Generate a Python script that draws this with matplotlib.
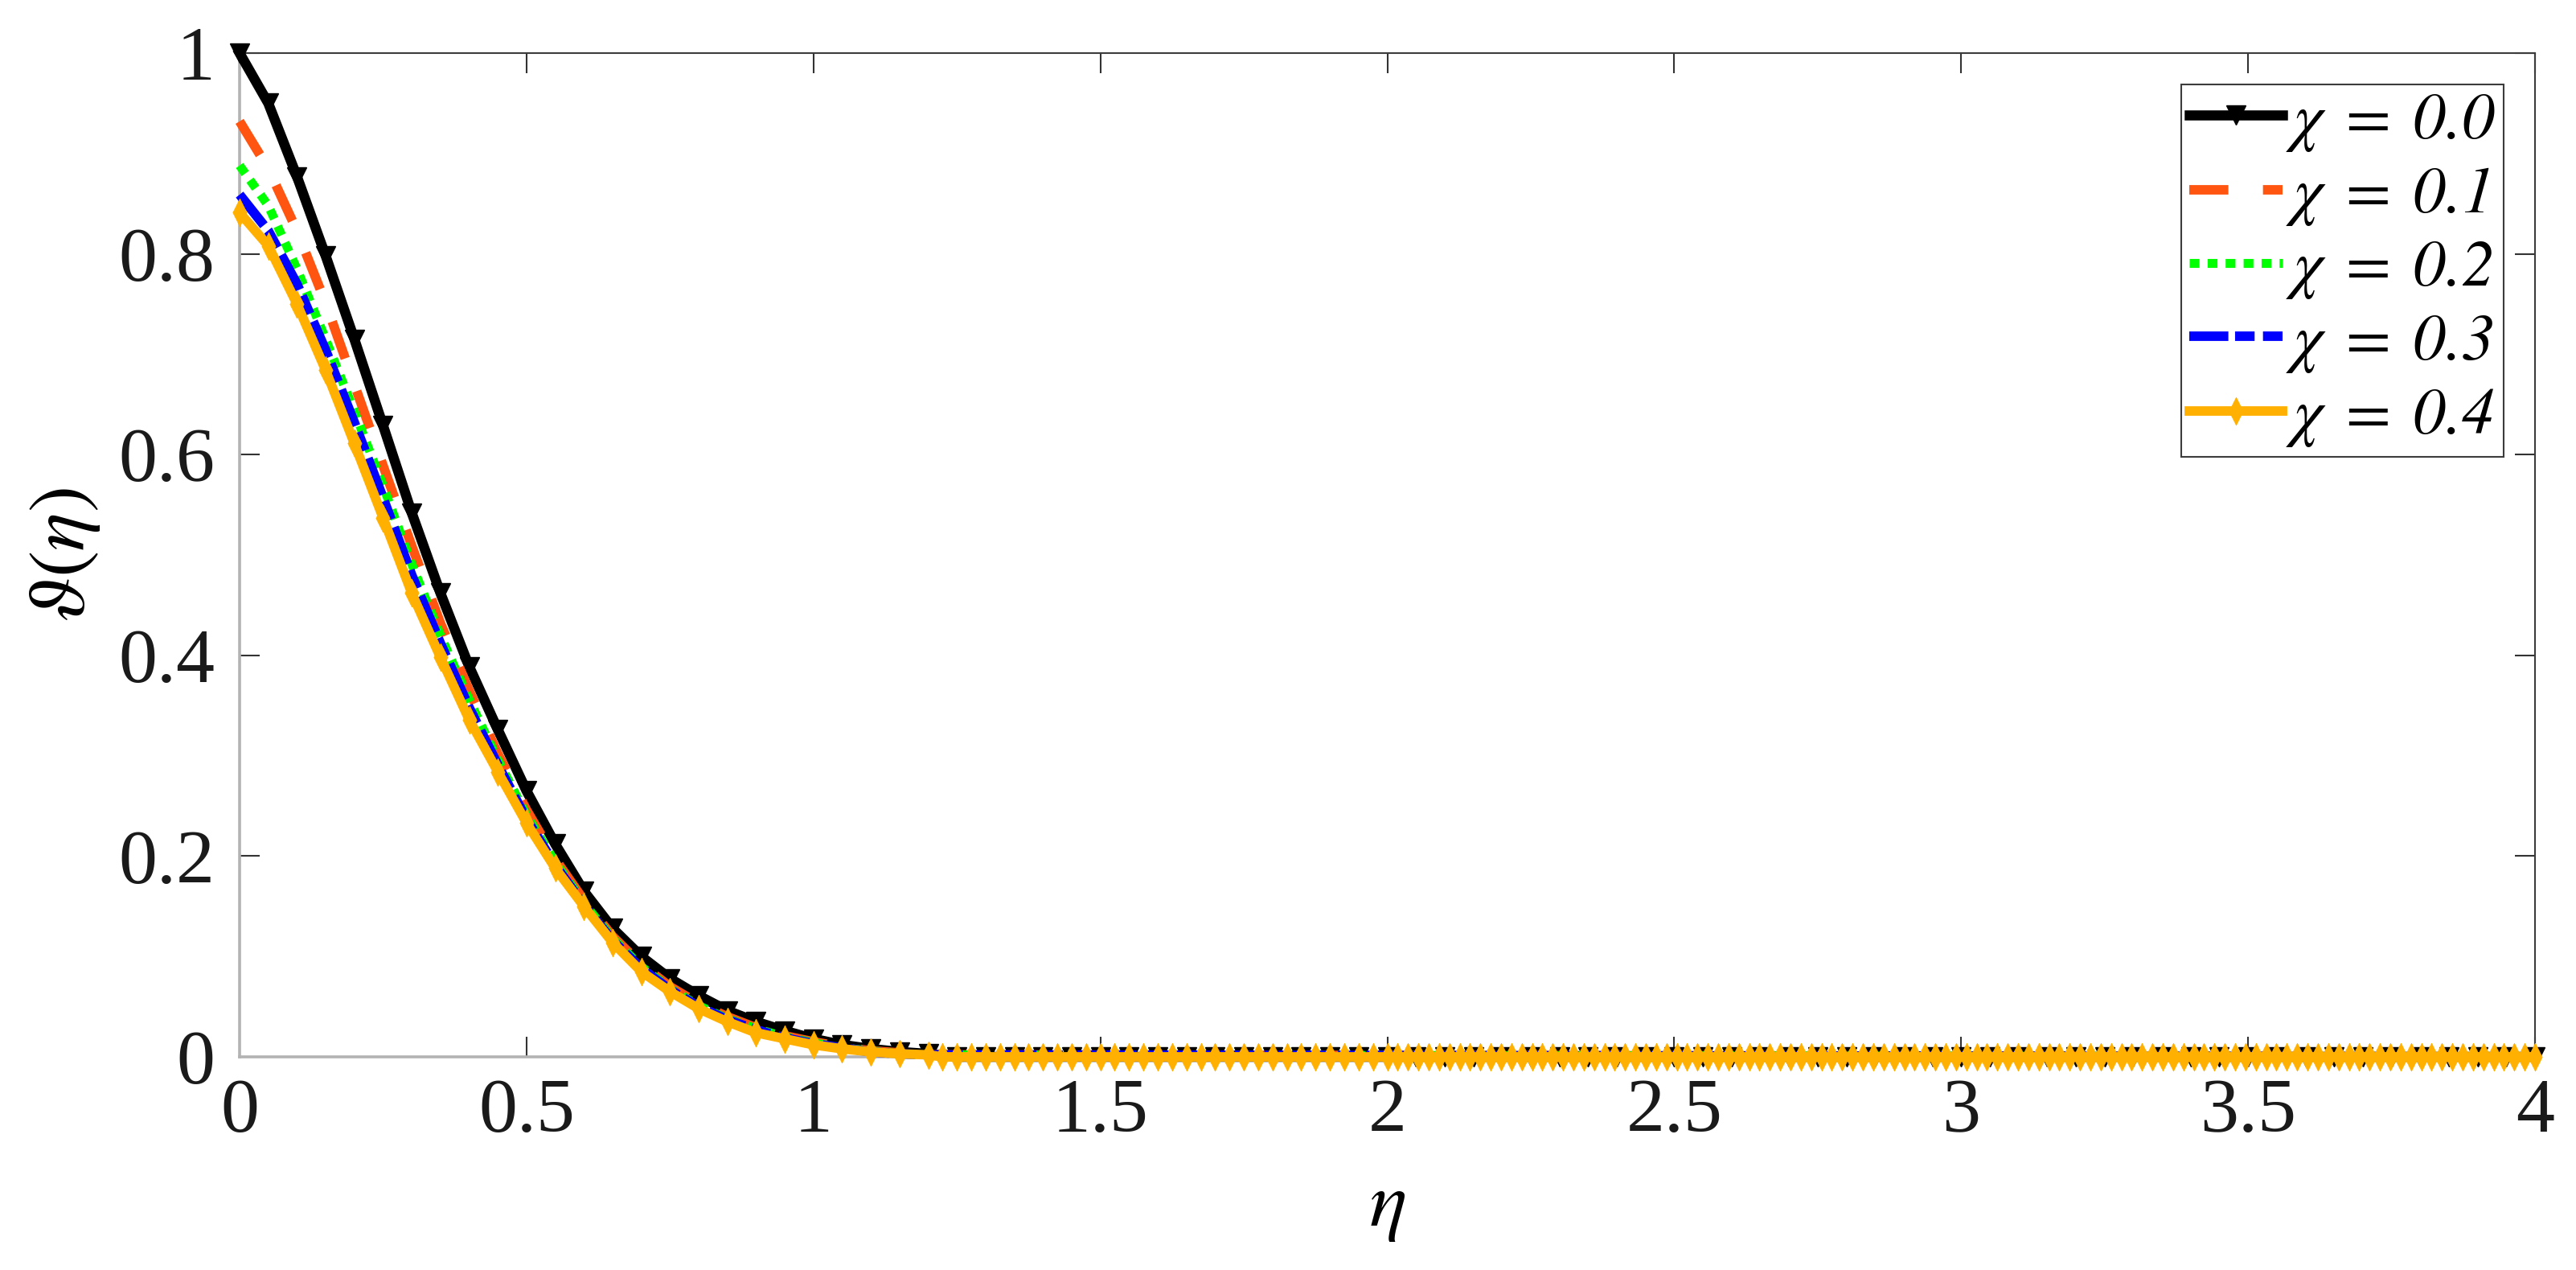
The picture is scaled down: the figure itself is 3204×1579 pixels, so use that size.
import numpy as np
import matplotlib
matplotlib.use("Agg")
import matplotlib.pyplot as plt
from matplotlib.transforms import IdentityTransform

# ---------------- data ----------------
eta = [0.00, 0.05, 0.10, 0.15, 0.20, 0.25, 0.30, 0.35, 0.40, 0.45, 0.50,
       0.55, 0.60, 0.65, 0.70, 0.75, 0.80, 0.85, 0.90, 0.95, 1.00,
       1.05, 1.10, 1.15, 1.20]

theta_chi00 = [1.000, 0.950, 0.877, 0.798, 0.715, 0.629, 0.542, 0.462, 0.389, 0.326, 0.265,
               0.212, 0.165, 0.128, 0.100, 0.078, 0.061, 0.046, 0.035, 0.026, 0.018,
               0.012, 0.008, 0.005, 0.003]
theta_chi01 = [0.932, 0.885, 0.823, 0.751, 0.670, 0.589, 0.509, 0.432, 0.365, 0.302, 0.246,
               0.197, 0.156, 0.120, 0.092, 0.070, 0.053, 0.040, 0.029, 0.021, 0.015,
               0.010, 0.006, 0.004, 0.002]
theta_chi02 = [0.888, 0.848, 0.785, 0.715, 0.643, 0.569, 0.491, 0.420, 0.356, 0.296, 0.241,
               0.194, 0.153, 0.118, 0.090, 0.068, 0.051, 0.038, 0.028, 0.020, 0.014,
               0.009, 0.006, 0.003, 0.002]
theta_chi03 = [0.859, 0.823, 0.770, 0.704, 0.632, 0.557, 0.480, 0.412, 0.348, 0.291, 0.237,
               0.191, 0.151, 0.116, 0.088, 0.067, 0.050, 0.037, 0.027, 0.019, 0.013,
               0.009, 0.005, 0.003, 0.002]
theta_chi04 = [0.841, 0.808, 0.750, 0.684, 0.611, 0.537, 0.462, 0.398, 0.336, 0.284, 0.233,
               0.188, 0.150, 0.114, 0.085, 0.065, 0.048, 0.035, 0.024, 0.018, 0.012,
               0.008, 0.005, 0.003, 0.002]

# beyond eta = 1.2 every profile reads as 0 up to eta = 4 (solver mesh points)
tail_value = 0.0
tail_eta_chi00 = np.linspace(1.25, 4.0, 56)
tail_eta_chi04 = np.concatenate([np.linspace(1.225, 2.0, 32), np.linspace(2.018, 4.0, 111)])
tail_eta_plain = [4.0]

chi_labels = ["0.0", "0.1", "0.2", "0.3", "0.4"]
xticks = [0, 0.5, 1, 1.5, 2, 2.5, 3, 3.5, 4]
xtick_labels = ["0", "0.5", "1", "1.5", "2", "2.5", "3", "3.5", "4"]
yticks = [0, 0.2, 0.4, 0.6, 0.8, 1.0]
ytick_labels = ["0", "0.2", "0.4", "0.6", "0.8", "1"]

# ---------------- style ----------------
plt.rcParams["font.family"] = ["Liberation Serif", "DejaVu Serif"]
plt.rcParams["mathtext.fontset"] = "custom"
plt.rcParams["mathtext.rm"] = "STIXGeneral"
plt.rcParams["mathtext.it"] = "STIXGeneral:italic"
plt.rcParams["mathtext.sf"] = "STIXGeneral:italic"
plt.rcParams["mathtext.bf"] = "STIXGeneral:bold"
plt.rcParams["mathtext.fallback"] = "stix"
plt.rcParams["lines.scale_dashes"] = False

W, H, DPI = 3204, 1579, 100
fig = plt.figure(figsize=(W / DPI, H / DPI), dpi=DPI)
ax_l, ax_r, ax_t, ax_b = 298, 3153, 66, 1314          # axes box in pixels (from top-left)
ax = fig.add_axes([ax_l / W, 1 - ax_b / H, (ax_r - ax_l) / W, (ax_b - ax_t) / H])

def full(series, tail_eta):
    x = np.concatenate([np.asarray(eta, float), np.asarray(tail_eta, float)])
    y = np.concatenate([np.asarray(series, float), np.full(len(tail_eta), tail_value)])
    return x, y

def label(i):
    return r"$\chi\;=\;\mathsf{%s}$" % chi_labels[i]

thin_diamond = [(0, 1), (0.5, 0), (0, -1), (-0.5, 0), (0, 1)]

x0, y0 = full(theta_chi00, tail_eta_chi00)
x1, y1 = full(theta_chi01, tail_eta_plain)
x2, y2 = full(theta_chi02, tail_eta_plain)
x3, y3 = full(theta_chi03, tail_eta_plain)
x4, y4 = full(theta_chi04, tail_eta_chi04)

ax.plot(x0, y0, color="black", lw=9, marker="v", ms=17, mew=1.0,
        label=label(0), clip_on=False, zorder=3)
ax.plot(x1, y1, color="#ff5511", lw=8.5, linestyle=(0, (35, 31)), dash_capstyle="butt",
        label=label(1), clip_on=False, zorder=4)
ax.plot(x2, y2, color="#00ff00", lw=8.0, linestyle=(0, (8.8, 7.3)), dash_capstyle="butt",
        label=label(2), clip_on=False, zorder=5)
ax.plot(x3, y3, color="#0000ff", lw=8.5, linestyle=(0, (35, 6, 17.5, 7.5)), dash_capstyle="butt",
        label=label(3), clip_on=False, zorder=6)
ax.plot(x4, y4, color="#ffb000", lw=8.5, marker=thin_diamond, ms=25, mew=0.5,
        label=label(4), clip_on=False, zorder=7)

ax.set_xlim(0, 4)
ax.set_ylim(0, 1)
ax.set_xticks(xticks)
ax.set_xticklabels(xtick_labels)
ax.set_yticks(yticks)
ax.set_yticklabels(ytick_labels)

ax.tick_params(axis="both", which="both", direction="in", length=18, width=1.5,
               colors="#333333", labelcolor="#1a1a1a", labelsize=69,
               top=True, right=True)
ax.tick_params(axis="x", pad=19)
ax.tick_params(axis="y", pad=22)

for side in ["left", "bottom"]:
    ax.spines[side].set_color("#b3b3b3")
    ax.spines[side].set_linewidth(2.6)
for side in ["top", "right"]:
    ax.spines[side].set_color("#3c3c3c")
    ax.spines[side].set_linewidth(1.5)

ax_h = ax_b - ax_t
ax_w = ax_r - ax_l
ax.set_xlabel(r"$\eta$", fontsize=70, va="baseline")
ax.xaxis.set_label_coords(0.5, -(1524 - ax_b) / ax_h)
ax.set_ylabel(r"$\vartheta(\eta)$", fontsize=72, va="center")
ax.yaxis.set_label_coords((81 - ax_l) / ax_w, 0.5)

# ---------------- legend fitted to the reference box ----------------
leg_left, leg_right, leg_top, leg_bottom = 2731, 3114, 105, 568   # pixels from top-left
target_w = leg_right - leg_left
target_h = leg_bottom - leg_top
fs = 58.6                       # legend digits ~55 px tall
fs_px = fs * DPI / 72.0
hl = 116.0 / fs_px              # handle ~116 px long

def make_legend(ls, tp, bp):
    lg = ax.legend(loc="upper right", bbox_to_anchor=(leg_right, H - leg_top),
                   bbox_transform=IdentityTransform(), fontsize=fs,
                   numpoints=1, handlelength=hl, handletextpad=tp, labelspacing=ls,
                   borderpad=bp, borderaxespad=0.0, fancybox=False, framealpha=1.0)
    lg.get_frame().set_edgecolor("#3c3c3c")
    lg.get_frame().set_linewidth(1.5)
    lg.set_zorder(10)
    return lg

ls, tp, bp = 0.12, 0.15, 0.12
leg = make_legend(ls, tp, bp)
for _ in range(3):
    fig.canvas.draw()
    bb = leg.get_window_extent()
    ls = float(np.clip(ls + (target_h - bb.height) / (4 * fs_px), 0.0, 1.0))
    tp = float(np.clip(tp + (target_w - bb.width) / fs_px, 0.05, 1.5))
    leg.remove()
    leg = make_legend(ls, tp, bp)

fig.savefig("out.png", dpi=DPI)
